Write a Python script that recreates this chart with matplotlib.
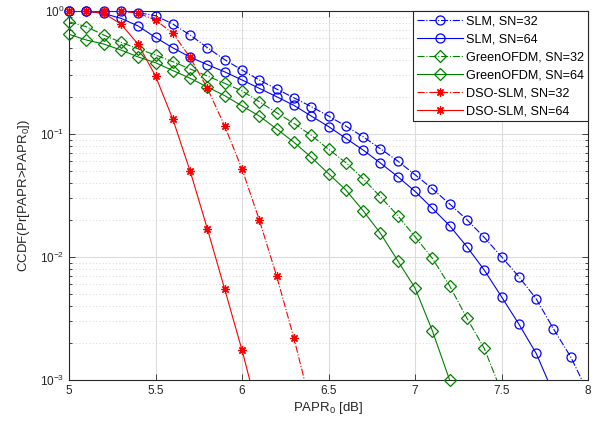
import numpy as np
import matplotlib
matplotlib.use("Agg")
import matplotlib.pyplot as plt
from matplotlib.lines import Line2D

plt.rcParams["font.family"] = ["Liberation Sans", "DejaVu Sans"]
plt.rcParams["mathtext.fontset"] = "custom"
plt.rcParams["mathtext.rm"] = "Liberation Sans"
plt.rcParams["mathtext.it"] = "Liberation Sans:italic"
plt.rcParams["mathtext.default"] = "regular"

# PAPR0 grid in dB
papr0 = [5.0, 5.1, 5.2, 5.3, 5.4, 5.5, 5.6, 5.7, 5.8, 5.9, 6.0,
         6.1, 6.2, 6.3, 6.4, 6.5, 6.6, 6.7, 6.8, 6.9, 7.0,
         7.1, 7.2, 7.3, 7.4, 7.5, 7.6, 7.7, 7.8, 7.9, 8.0]

slm_32 = [1.0, 1.0, 1.0, 1.0, 0.97, 0.916, 0.784, 0.638, 0.503, 0.402, 0.331,
          0.275, 0.232, 0.197, 0.167, 0.140, 0.116, 0.095, 0.0759, 0.0603, 0.0467,
          0.0359, 0.0270, 0.0201, 0.01445, 0.01005, 0.00692, 0.00458, 0.00261, 0.00154, 0.00079]
slm_64 = [1.0, 0.995, 0.955, 0.872, 0.755, 0.609, 0.502, 0.422, 0.366, 0.320, 0.275,
          0.235, 0.201, 0.171, 0.140, 0.115, 0.0923, 0.0741, 0.0581, 0.0450, 0.0342,
          0.0249, 0.01796, 0.01213, 0.00784, 0.00475, 0.00285, 0.00165, 0.00078]
green_32 = [0.818, 0.745, 0.638, 0.557, 0.491, 0.439, 0.387, 0.338, 0.296, 0.258, 0.224,
            0.183, 0.149, 0.122, 0.0976, 0.0752, 0.0586, 0.0432, 0.0309, 0.0217, 0.01462,
            0.00976, 0.00584, 0.00318, 0.00181, 0.00080]
green_64 = [0.647, 0.581, 0.539, 0.482, 0.423, 0.380, 0.328, 0.284, 0.241, 0.205, 0.169,
            0.140, 0.110, 0.0857, 0.0647, 0.0476, 0.0351, 0.0238, 0.0156, 0.00933, 0.00560,
            0.00252, 0.00100]
dso_32 = [1.0, 1.0, 1.0, 1.0, 0.96, 0.845, 0.659, 0.42, 0.235, 0.116, 0.0519,
          0.0200, 0.00701, 0.00219, 0.0006]
dso_64 = [1.0, 1.0, 0.96, 0.784, 0.536, 0.296, 0.132, 0.050, 0.0169, 0.00547, 0.00175,
          0.0005]

labels = ["SLM, SN=32", "SLM, SN=64", "GreenOFDM, SN=32", "GreenOFDM, SN=64",
          "DSO-SLM, SN=32", "DSO-SLM, SN=64"]

green = "#008000"
asterisk = (8, 2, 0)
series = [
    (slm_32, "b", "-.", "o"),
    (slm_64, "b", "-", "o"),
    (green_32, green, "-.", "D"),
    (green_64, green, "-", "D"),
    (dso_32, "r", "-.", asterisk),
    (dso_64, "r", "-", asterisk),
]

ymin = 1e-3

fig = plt.figure(figsize=(5.98, 4.30), dpi=100)
ax = fig.add_axes([0.1154, 0.1163, 0.8679, 0.8581])

handles = []
for (vals, col, ls, mk), lab in zip(series, labels):
    x = np.array(papr0[:len(vals)])
    y = np.array(vals)
    ms = 6 if mk == "D" else (6 if mk == asterisk else 6.5)
    # full line, clipped at axes
    ax.plot(x, y, color=col, ls=ls, lw=0.8, zorder=3)
    # markers only for visible points, not clipped (like MATLAB)
    keep = y >= ymin * 0.999
    ax.plot(x[keep], y[keep], ls="none", marker=mk, ms=ms, mfc="none",
            mec=col, mew=0.9, clip_on=False, zorder=4)
    handles.append(Line2D([], [], color=col, ls=ls, lw=0.8, marker=mk, ms=ms,
                          mfc="none", mec=col, mew=0.9))

ax.set_yscale("log")
ax.set_xlim(5, 8)
ax.set_ylim(1e-3, 1)
ax.set_xticks([5, 5.5, 6, 6.5, 7, 7.5, 8])
ax.set_xticklabels(["5", "5.5", "6", "6.5", "7", "7.5", "8"])

ax.grid(True, which="major", color="#dcdcdc", lw=0.8, ls="-")
ax.grid(True, which="minor", axis="y", color="#c8c8c8", lw=0.6, ls=(0, (1, 3)))
ax.set_axisbelow(True)

ax.tick_params(which="both", direction="in", top=True, right=True,
               labelsize=8.5, colors="#262626", width=0.6)
ax.tick_params(which="major", length=4.5)
ax.tick_params(which="minor", length=2.5)
ax.tick_params(axis="x", which="minor", bottom=False, top=False)
for sp in ax.spines.values():
    sp.set_color("#262626")
    sp.set_linewidth(0.8)

ax.set_xlabel(r"PAPR$_0$ [dB]", fontsize=9.5, color="#262626", labelpad=2)
ax.set_ylabel(r"CCDF(Pr[PAPR>PAPR$_0$])", fontsize=9.5, color="#262626", labelpad=6)

leg = ax.legend(handles, labels, loc="upper right", fontsize=9.1,
                frameon=True, fancybox=False, framealpha=1, edgecolor="#262626",
                borderaxespad=0, handlelength=3.6, handletextpad=0.25,
                labelspacing=0.48, borderpad=0.32)
leg.get_frame().set_linewidth(0.8)

fig.savefig("out.png", dpi=100)
